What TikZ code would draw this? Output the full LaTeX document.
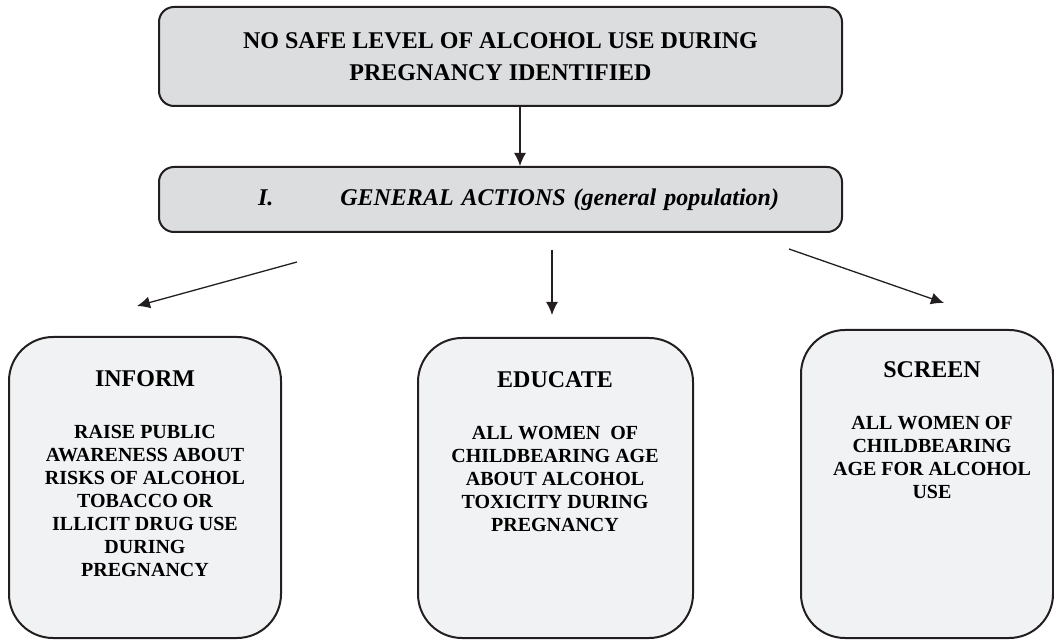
\documentclass[tikz,border=0pt]{standalone}
\usepackage{fontspec}
\setmainfont{Liberation Serif}
\usetikzlibrary{arrows.meta}
\definecolor{boxline}{RGB}{35,31,32}
\definecolor{headfill}{RGB}{220,221,223}
\definecolor{cardfill}{RGB}{241,242,244}

\begin{document}
\begin{tikzpicture}[x=0.5pt,y=-0.5pt]
    % Define basic node styles
    \tikzset{
        headbox/.style={
            rectangle,
            rounded corners=7.5pt,
            draw=boxline,
            line width=1pt,
            fill=headfill,
            minimum width=341.5pt,
            align=center,
            font=\bfseries\fontsize{12}{16}\selectfont
        },
        card/.style={
            rectangle,
            rounded corners=22pt,
            draw=boxline,
            line width=1pt,
            fill=cardfill
        },
        cardtitle/.style={font=\bfseries\fontsize{12}{14}\selectfont},
        cardtext/.style={align=center, font=\bfseries\fontsize{10}{11.5}\selectfont},
        arrow/.style={-{Latex[length=6.5pt,width=6pt]}, line width=0.65pt, draw=boxline}
    }
    \useasboundingbox (0,0) rectangle (1054,641);

    % Top statement (grey)
    \node[headbox, minimum height=49.5pt] (nosafe) at (500.5,56.5) {NO SAFE LEVEL OF ALCOHOL USE DURING\\PREGNANCY IDENTIFIED};

    % General actions (grey)
    \node[headbox, minimum height=32.5pt, text width=341.5pt, inner xsep=0pt, align=left] (general) at (500.5,199.5) {\hspace*{49.5pt}\textit{I.}\hspace{33.5pt}\textit{GENERAL ACTIONS (general population)}};

    % Action cards (light grey)
    \node[card, minimum width=136pt, minimum height=150.5pt] (inform) at (145,487.5) {};
    \node[card, minimum width=137.5pt, minimum height=150pt] (educate) at (555.5,488) {};
    \node[card, minimum width=126pt, minimum height=154pt] (screen) at (927,484) {};

    % Card texts
    \node[cardtitle] (informTitle) at (145,378.5) {INFORM};
    \node[cardtext] (informText) at (145,501) {RAISE PUBLIC\\AWARENESS ABOUT\\RISKS OF ALCOHOL\\TOBACCO OR\\ILLICIT DRUG USE\\DURING\\PREGNANCY};

    \node[cardtitle] (educateTitle) at (555,380) {EDUCATE};
    \node[cardtext] (educateText) at (555,479) {ALL WOMEN\ \ OF\\CHILDBEARING AGE\\ABOUT ALCOHOL\\TOXICITY DURING\\PREGNANCY};

    \node[cardtitle] (screenTitle) at (932,370) {SCREEN};
    \node[cardtext] (screenText) at (932,457.5) {ALL WOMEN OF\\CHILDBEARING\\AGE FOR ALCOHOL\\USE};

    % Arrow ends below the general actions
    \coordinate (informTail) at (297,262);
    \coordinate (informHead) at (137,306);
    \coordinate (educateTail) at (552,250);
    \coordinate (educateHead) at (552,315);
    \coordinate (screenTail) at (789,249);
    \coordinate (screenHead) at (944,303);

    % Connections
    \draw[arrow] ([xshift=9.75pt]nosafe.south) -- ([xshift=9.75pt]general.north);
    \draw[arrow] (informTail) -- (informHead);
    \draw[arrow] (educateTail) -- (educateHead);
    \draw[arrow] (screenTail) -- (screenHead);
\end{tikzpicture}
\end{document}
